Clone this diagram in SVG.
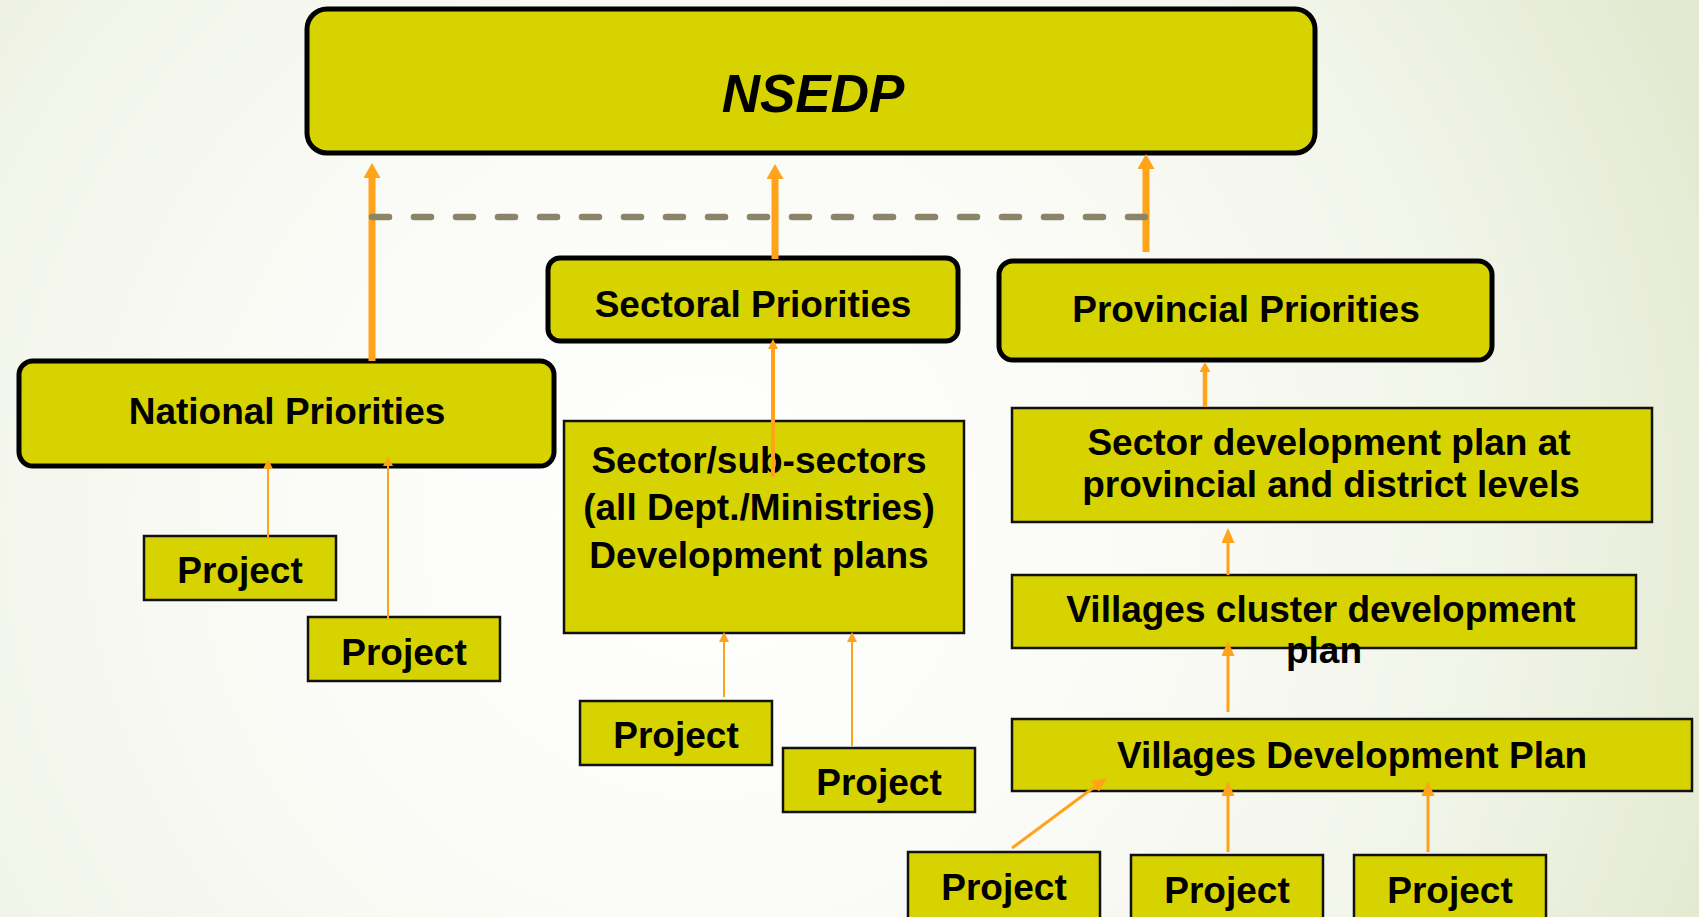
<svg xmlns="http://www.w3.org/2000/svg" width="1699" height="917" viewBox="0 0 1699 917">
<defs>
<radialGradient id="bg" cx="700" cy="520" r="1100" gradientUnits="userSpaceOnUse">
<stop offset="0" stop-color="#FFFFFF"/>
<stop offset="0.4" stop-color="#FAFBF6"/>
<stop offset="0.7" stop-color="#F2F5EA"/>
<stop offset="0.9" stop-color="#E8EDD9"/>
<stop offset="1" stop-color="#E2E9CE"/>
</radialGradient>
<marker id="hBig" viewBox="0 0 15 17" refX="0" refY="8.5" markerWidth="15" markerHeight="17" orient="auto" markerUnits="userSpaceOnUse"><path d="M0,0 L15,8.5 L0,17 z" fill="#FFA31A"/></marker>
<marker id="hMid" viewBox="0 0 15 13" refX="0" refY="6.5" markerWidth="15" markerHeight="13" orient="auto" markerUnits="userSpaceOnUse"><path d="M0,0 L15,6.5 L0,13 z" fill="#FFA31A"/></marker>
<marker id="hSm" viewBox="0 0 10 11" refX="0" refY="5.5" markerWidth="10" markerHeight="11" orient="auto" markerUnits="userSpaceOnUse"><path d="M0,0 L10,5.5 L0,11 z" fill="#FFA31A"/></marker>
<marker id="hXs" viewBox="0 0 10 10" refX="0" refY="5" markerWidth="10" markerHeight="10" orient="auto" markerUnits="userSpaceOnUse"><path d="M0,0 L10,5 L0,10 z" fill="#FFA31A"/></marker>
</defs>
<style>
.rb{fill:#D7D300;stroke:#000;stroke-width:5}
.sb{fill:#D7D300;stroke:#111;stroke-width:2.5}
.t{font-family:"Liberation Sans",Arial,sans-serif;font-weight:bold;font-size:37px;fill:#000;text-anchor:middle}
.a{stroke:#FFA31A;fill:none}
</style>
<rect x="0" y="0" width="1699" height="917" fill="url(#bg)"/>

<g id="nsedp">
<rect class="rb" x="307" y="9" width="1008" height="144" rx="20"/>
<text class="t" x="813" y="112" style="font-size:53px;font-style:italic">NSEDP</text>
</g>
<g id="sectoral-priorities">
<rect class="rb" x="548" y="258" width="410" height="83" rx="12"/>
<text class="t" x="753" y="317">Sectoral Priorities</text>
</g>
<g id="national-priorities">
<rect class="rb" x="19" y="361" width="535" height="105" rx="14"/>
<text class="t" x="287" y="424">National Priorities</text>
</g>
<g id="provincial-priorities">
<rect class="rb" x="999" y="261" width="493" height="99" rx="14"/>
<text class="t" x="1246" y="322">Provincial Priorities</text>
</g>
<g id="sector-plans">
<rect class="sb" x="564" y="421" width="400" height="212"/>
<text class="t" x="759" y="473">Sector/sub-sectors</text>
<text class="t" x="759" y="520">(all Dept./Ministries)</text>
<text class="t" x="759" y="568">Development plans</text>
</g>
<g id="sector-dev-plan">
<rect class="sb" x="1012" y="408" width="640" height="114"/>
<text class="t" x="1329" y="455">Sector development plan at</text>
<text class="t" x="1331" y="497">provincial and district levels</text>
</g>
<g id="cluster-plan">
<rect class="sb" x="1012" y="575" width="624" height="73"/>
<text class="t" x="1321" y="622">Villages cluster development</text>
<text class="t" x="1324" y="663">plan</text>
</g>
<g id="village-plan">
<rect class="sb" x="1012" y="719" width="680" height="72"/>
<text class="t" x="1352" y="768">Villages Development Plan</text>
</g>
<g id="project-1">
<rect class="sb" x="144" y="536" width="192" height="64"/>
<text class="t" x="240" y="583">Project</text>
</g>
<g id="project-2">
<rect class="sb" x="308" y="617" width="192" height="64"/>
<text class="t" x="404" y="665">Project</text>
</g>
<g id="project-3">
<rect class="sb" x="580" y="701" width="192" height="64"/>
<text class="t" x="676" y="748">Project</text>
</g>
<g id="project-4">
<rect class="sb" x="783" y="748" width="192" height="64"/>
<text class="t" x="879" y="795">Project</text>
</g>
<g id="project-5">
<rect class="sb" x="908" y="852" width="192" height="70"/>
<text class="t" x="1004" y="900">Project</text>
</g>
<g id="project-6">
<rect class="sb" x="1131" y="855" width="192" height="70"/>
<text class="t" x="1227" y="903">Project</text>
</g>
<g id="project-7">
<rect class="sb" x="1354" y="855" width="192" height="70"/>
<text class="t" x="1450" y="903">Project</text>
</g>

<g id="connectors">
<line class="a" x1="372" y1="361" x2="372" y2="178" stroke-width="7" marker-end="url(#hBig)"/>
<line class="a" x1="775" y1="259" x2="775" y2="179" stroke-width="7" marker-end="url(#hBig)"/>
<line class="a" x1="1146" y1="252" x2="1146" y2="169" stroke-width="7" marker-end="url(#hBig)"/>
<line x1="372" y1="217" x2="1146" y2="217" stroke="#8B8468" stroke-width="6.5" stroke-linecap="round" stroke-dasharray="17 25"/>
<line class="a" x1="773" y1="477" x2="773" y2="349" stroke-width="4" marker-end="url(#hXs)"/>
<line class="a" x1="1205" y1="407" x2="1205" y2="372" stroke-width="4.5" marker-end="url(#hSm)"/>
<line class="a" x1="268" y1="539" x2="268" y2="469" stroke-width="2" marker-end="url(#hXs)"/>
<line class="a" x1="388" y1="620" x2="388" y2="466" stroke-width="2" marker-end="url(#hXs)"/>
<line class="a" x1="724" y1="697" x2="724" y2="642" stroke-width="2" marker-end="url(#hXs)"/>
<line class="a" x1="852" y1="746" x2="852" y2="642" stroke-width="2" marker-end="url(#hXs)"/>
<line class="a" x1="1228" y1="575" x2="1228" y2="543" stroke-width="3" marker-end="url(#hMid)"/>
<line class="a" x1="1228" y1="712" x2="1228" y2="656" stroke-width="3" marker-end="url(#hMid)"/>
<line class="a" x1="1012" y1="848" x2="1095" y2="786.5" stroke-width="3" marker-end="url(#hMid)"/>
<line class="a" x1="1228" y1="852" x2="1228" y2="796" stroke-width="3" marker-end="url(#hMid)"/>
<line class="a" x1="1428" y1="852" x2="1428" y2="796" stroke-width="3" marker-end="url(#hMid)"/>
</g>
</svg>
